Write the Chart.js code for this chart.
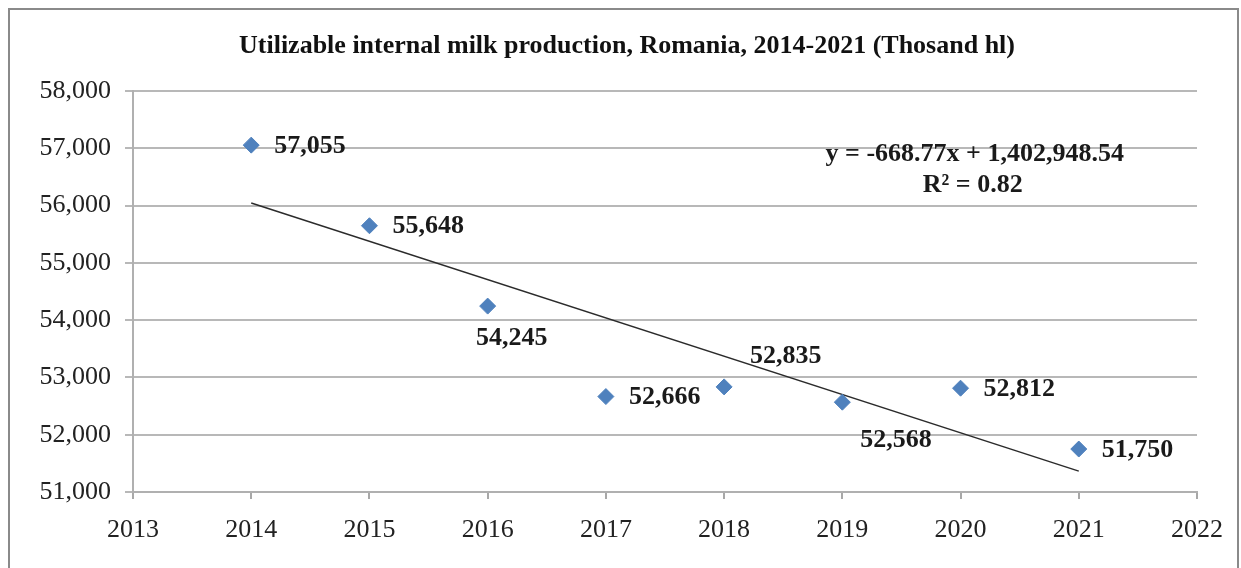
<!DOCTYPE html>
<html lang="en">
<head>
  <meta charset="UTF-8">
  <title>Utilizable internal milk production, Romania</title>
  <script src="https://cdn.jsdelivr.net/npm/chart.js"></script>
  <style>
    html, body { margin: 0; padding: 0; background: #fff; }
    #wrap { width: 1241px; height: 568px; position: relative; }
  </style>
</head>
<body>
  <div id="wrap"><canvas id="milkChart"></canvas></div>
  <script>
    // data
    const years = [2014, 2015, 2016, 2017, 2018, 2019, 2020, 2021];
    const production = [57055, 55648, 54245, 52666, 52835, 52568, 52812, 51750];
    const xTicks = [2013, 2014, 2015, 2016, 2017, 2018, 2019, 2020, 2021, 2022];
    const yTicks = [51000, 52000, 53000, 54000, 55000, 56000, 57000, 58000];
    // linear trend as printed on the chart
    const trendSlope = -668.77;
    const trendIntercept = 1402948.54;
    const trendR2 = 0.82;
    const titleText = 'Utilizable internal milk production, Romania, 2014-2021 (Thosand hl)';

    // where each value label sits relative to its marker
    const labelPlace = ['right', 'right', 'below', 'right', 'above', 'belowRight', 'right', 'right'];

    const serif = "'Liberation Serif', 'Times New Roman', serif";
    const fmt = v => v.toLocaleString('en-US');

    const trendPoints = [years[0], years[years.length - 1]].map(x => ({ x: x, y: trendSlope * x + trendIntercept }));

    // outer chart border + title
    const frame = {
      id: 'frame',
      beforeDraw(chart) {
        const ctx = chart.ctx;
        ctx.save();
        ctx.strokeStyle = '#8a8a8a';
        ctx.lineWidth = 2;
        ctx.strokeRect(9, 9, 1229, 600);
        ctx.fillStyle = '#111';
        ctx.font = 'bold 26px ' + serif;
        ctx.textAlign = 'center';
        ctx.textBaseline = 'middle';
        ctx.fillText(titleText, 627, 46);
        ctx.restore();
      }
    };

    const valueLabels = {
      id: 'valueLabels',
      afterDatasetsDraw(chart) {
        const ctx = chart.ctx;
        const meta = chart.getDatasetMeta(0);
        ctx.save();
        ctx.font = 'bold 26px ' + serif;
        ctx.fillStyle = '#1a1a1a';
        ctx.textBaseline = 'middle';
        meta.data.forEach((pt, i) => {
          const txt = fmt(production[i]);
          const p = labelPlace[i];
          if (p === 'below') {
            ctx.textAlign = 'center';
            ctx.fillText(txt, pt.x + 24, pt.y + 32);
          } else if (p === 'above') {
            ctx.textAlign = 'left';
            ctx.fillText(txt, pt.x + 26, pt.y - 31);
          } else if (p === 'belowRight') {
            ctx.textAlign = 'left';
            ctx.fillText(txt, pt.x + 18, pt.y + 38);
          } else {
            ctx.textAlign = 'left';
            ctx.fillText(txt, pt.x + 23, pt.y + 1);
          }
        });

        // trend equation
        const xs = chart.scales.x, ys = chart.scales.y;
        const ex = xs.getPixelForValue(2020.12);
        const ey = ys.getPixelForValue(56900);
        ctx.textAlign = 'center';
        ctx.font = 'bold 26px ' + serif;
        ctx.fillText('y = ' + trendSlope.toFixed(2) + 'x + ' + trendIntercept.toLocaleString('en-US', { minimumFractionDigits: 2 }), ex, ey);
        ctx.fillText('R\u00B2 = ' + trendR2.toFixed(2), ex - 2, ey + 31);
        ctx.restore();
      }
    };

    const ctx = document.getElementById('milkChart').getContext('2d');
    new Chart(ctx, {
      type: 'scatter',
      data: {
        datasets: [{
          label: 'Production',
          data: years.map((y, i) => ({ x: y, y: production[i] })),
          pointStyle: 'rectRot',
          pointRadius: 8,
          pointHoverRadius: 8,
          backgroundColor: '#4f81bd',
          borderColor: '#4f81bd',
          borderWidth: 1,
          order: 1
        }, {
          label: 'Linear trend',
          data: trendPoints,
          showLine: true,
          pointRadius: 0,
          borderColor: '#2b2b2b',
          borderWidth: 1.5,
          fill: false,
          order: 2
        }]
      },
      options: {
        responsive: true,
        maintainAspectRatio: false,
        animation: false,
        layout: { padding: { left: 0, right: 44, top: 91, bottom: 0 } },
        plugins: {
          legend: { display: false },
          tooltip: { enabled: false },
          title: { display: false }
        },
        scales: {
          x: {
            type: 'linear',
            min: xTicks[0],
            max: xTicks[xTicks.length - 1],
            afterBuildTicks: s => { s.ticks = xTicks.map(v => ({ value: v })); },
            afterFit: s => { s.height = 76; },
            grid: { drawOnChartArea: false, drawTicks: true, tickLength: 7, color: '#a8a8a8', lineWidth: 2 },
            border: { display: true, color: '#b0b0b0', width: 2 },
            ticks: {
              color: '#222',
              padding: 16,
              maxRotation: 0,
              font: { family: serif, size: 26 },
              callback: v => String(v)
            }
          },
          y: {
            min: yTicks[0],
            max: yTicks[yTicks.length - 1],
            afterBuildTicks: s => { s.ticks = yTicks.map(v => ({ value: v })); },
            afterFit: s => { s.width = 133; },
            grid: { color: '#b8b8b8', lineWidth: 2, tickLength: 8 },
            border: { display: true, color: '#b0b0b0', width: 2 },
            ticks: {
              color: '#222',
              padding: 14,
              font: { family: serif, size: 26 },
              callback: v => fmt(v)
            }
          }
        }
      },
      plugins: [frame, valueLabels]
    });
  </script>
</body>
</html>
